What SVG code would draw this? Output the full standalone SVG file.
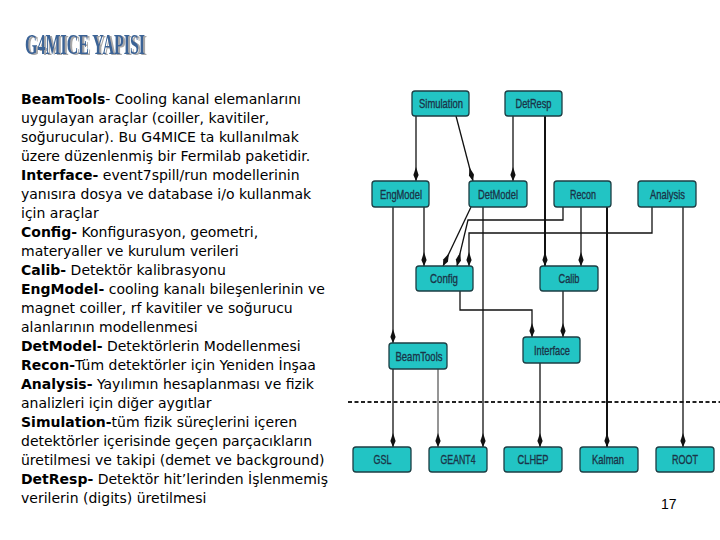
<svg xmlns="http://www.w3.org/2000/svg" width="720" height="540" viewBox="0 0 720 540">
<style>
.bg{fill:#ffffff}
.node rect{fill:#22c4c4;stroke:#1c3e44;stroke-width:1.3}
.node text{font-family:"Liberation Sans",Arial,sans-serif;font-size:13px;fill:#1a3448;stroke:#1a3448;stroke-width:0.35;text-anchor:middle}
.conn path{fill:none;stroke:#111;stroke-width:1.3;marker-end:url(#ah)}
.conn path.thick{stroke-width:2}
.conn path.gray{stroke:#8a8a8a;stroke-width:1.8}
.body{font-family:"DejaVu Sans",Verdana,sans-serif;font-size:14px;fill:#000}
.body .b{font-weight:bold}
.title{font-family:"Liberation Serif","Times New Roman",serif;font-weight:bold;font-size:29px}
</style>
<defs>
<marker id="ah" markerUnits="userSpaceOnUse" markerWidth="16" markerHeight="8" viewBox="-15 -4 16 8" refX="0" refY="0" orient="auto">
<path d="M0,0 L-6,-2.6 L-14,0 L-6,2.6 Z" fill="#111"/>
</marker>
<filter id="shadow" x="-5%" y="-20%" width="115%" height="150%">
<feOffset in="SourceAlpha" dx="2" dy="1" result="off"/>
<feFlood flood-color="#a8a8a8"/>
<feComposite in2="off" operator="in" result="sh"/>
<feMerge><feMergeNode in="sh"/><feMergeNode in="SourceGraphic"/></feMerge>
</filter>
</defs>
<rect class="bg" x="0" y="0" width="720" height="540"/>

<g id="title">
<text class="title" x="25" y="54" fill="#3b6496" filter="url(#shadow)" textLength="120" lengthAdjust="spacingAndGlyphs">G4MICE YAPISI</text>
</g>

<g id="description" class="body">
<text x="21" y="104"><tspan class="b">BeamTools</tspan>- Cooling kanal elemanlarını</text>
<text x="21" y="123">uygulayan araçlar (coiller, kavitiler,</text>
<text x="21" y="142">soğurucular). Bu G4MICE ta kullanılmak</text>
<text x="21" y="161">üzere düzenlenmiş bir Fermilab paketidir.</text>
<text x="21" y="180"><tspan class="b">Interface-</tspan> event7spill/run modellerinin</text>
<text x="21" y="199">yanısıra dosya ve database i/o kullanmak</text>
<text x="21" y="218">için araçlar</text>
<text x="21" y="237"><tspan class="b">Config-</tspan> Konfigurasyon, geometri,</text>
<text x="21" y="256">materyaller ve kurulum verileri</text>
<text x="21" y="275"><tspan class="b">Calib-</tspan> Detektör kalibrasyonu</text>
<text x="21" y="294"><tspan class="b">EngModel-</tspan> cooling kanalı bileşenlerinin ve</text>
<text x="21" y="313">magnet coiller, rf kavitiler ve soğurucu</text>
<text x="21" y="332">alanlarının modellenmesi</text>
<text x="21" y="351"><tspan class="b">DetModel-</tspan> Detektörlerin Modellenmesi</text>
<text x="21" y="370"><tspan class="b">Recon-</tspan>Tüm detektörler için Yeniden İnşaa</text>
<text x="21" y="389"><tspan class="b">Analysis-</tspan> Yayılımın hesaplanması ve fizik</text>
<text x="21" y="408">analizleri için diğer aygıtlar</text>
<text x="21" y="427"><tspan class="b">Simulation-</tspan>tüm fizik süreçlerini içeren</text>
<text x="21" y="446">detektörler içerisinde geçen parçacıkların</text>
<text x="21" y="465">üretilmesi ve takipi (demet ve background)</text>
<text x="21" y="484"><tspan class="b">DetResp-</tspan> Detektör hit’lerinden İşlenmemiş</text>
<text x="21" y="503">verilerin (digits) üretilmesi</text>
</g>

<g id="divider">
<line x1="348" y1="402" x2="720" y2="402" stroke="#222" stroke-width="2" stroke-dasharray="4 2.5"/>
</g>

<g id="connectors" class="conn">
<path d="M416,116 V181"/>
<path d="M456,116 L473,181"/>
<path d="M513,116 V181"/>
<path class="thick" d="M545,116 V266"/>
<path d="M393,207 V343"/>
<path d="M424,207 V266"/>
<path d="M471,207 L443,266"/>
<path d="M563,207 V220 H468 L457,266"/>
<path d="M652,207 V233 H469 V266"/>
<path d="M483,207 V447"/>
<path d="M581,207 V266"/>
<path class="thick" d="M607,207 V447"/>
<path d="M683,207 V447"/>
<path d="M460,291 V310 H532 V337"/>
<path d="M563,291 V337"/>
<path d="M540,363 V447"/>
<path d="M393,369 V447"/>
<path class="gray" d="M438,369 V447"/>
</g>

<g id="Simulation" class="node"><rect x="412" y="91" width="57" height="25" rx="3"/><text x="441" y="108" textLength="44" lengthAdjust="spacingAndGlyphs">Simulation</text></g>
<g id="DetResp" class="node"><rect x="505" y="91" width="57" height="25" rx="3"/><text x="533.5" y="108" textLength="36" lengthAdjust="spacingAndGlyphs">DetResp</text></g>
<g id="EngModel" class="node"><rect x="372" y="181" width="57" height="26" rx="3"/><text x="401" y="198.5" textLength="42" lengthAdjust="spacingAndGlyphs">EngModel</text></g>
<g id="DetModel" class="node"><rect x="469" y="181" width="58" height="26" rx="3"/><text x="498" y="198.5" textLength="40" lengthAdjust="spacingAndGlyphs">DetModel</text></g>
<g id="Recon" class="node"><rect x="554" y="181" width="57" height="26" rx="3"/><text x="583" y="198.5" textLength="26" lengthAdjust="spacingAndGlyphs">Recon</text></g>
<g id="Analysis" class="node"><rect x="638" y="181" width="58" height="26" rx="3"/><text x="667.5" y="198.5" textLength="35" lengthAdjust="spacingAndGlyphs">Analysis</text></g>
<g id="Config" class="node"><rect x="416" y="266" width="57" height="25" rx="3"/><text x="444" y="283" textLength="28" lengthAdjust="spacingAndGlyphs">Config</text></g>
<g id="Calib" class="node"><rect x="540" y="266" width="58" height="25" rx="3"/><text x="569" y="283" textLength="21" lengthAdjust="spacingAndGlyphs">Calib</text></g>
<g id="BeamTools" class="node"><rect x="389" y="343" width="58" height="26" rx="3"/><text x="419" y="360.5" textLength="47" lengthAdjust="spacingAndGlyphs">BeamTools</text></g>
<g id="Interface" class="node"><rect x="523" y="337" width="57" height="26" rx="3"/><text x="552" y="354.5" textLength="36" lengthAdjust="spacingAndGlyphs">Interface</text></g>
<g id="GSL" class="node"><rect x="353" y="447" width="58" height="25" rx="3"/><text x="382.5" y="464" textLength="18" lengthAdjust="spacingAndGlyphs">GSL</text></g>
<g id="GEANT4" class="node"><rect x="429" y="447" width="58" height="25" rx="3"/><text x="458" y="464" textLength="35" lengthAdjust="spacingAndGlyphs">GEANT4</text></g>
<g id="CLHEP" class="node"><rect x="504" y="447" width="58" height="25" rx="3"/><text x="533" y="464" textLength="31" lengthAdjust="spacingAndGlyphs">CLHEP</text></g>
<g id="Kalman" class="node"><rect x="580" y="447" width="58" height="25" rx="3"/><text x="608" y="464" textLength="32" lengthAdjust="spacingAndGlyphs">Kalman</text></g>
<g id="ROOT" class="node"><rect x="656" y="447" width="58" height="25" rx="3"/><text x="685" y="464" textLength="26" lengthAdjust="spacingAndGlyphs">ROOT</text></g>

<g id="page-number">
<text x="661" y="509" font-family="Liberation Sans, Arial, sans-serif" font-size="14" fill="#000">17</text>
</g>
</svg>
